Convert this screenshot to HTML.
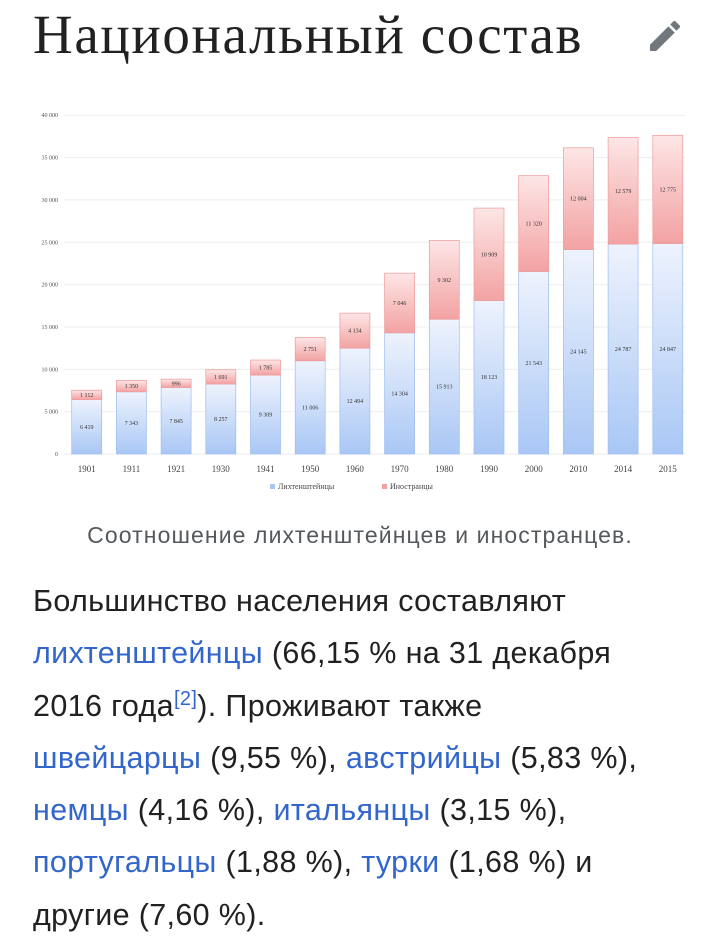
<!DOCTYPE html>
<html><head><meta charset="utf-8"><style>
body{margin:0;width:720px;height:949px;background:#fff;overflow:hidden;font-family:"Liberation Sans",sans-serif}
h1{position:absolute;left:33px;top:3px;margin:0;font:400 55px "Liberation Serif",serif;color:#202122;letter-spacing:1.6px;white-space:nowrap}
.cap{position:absolute;left:0;width:720px;top:522px;text-align:center;font-size:23px;letter-spacing:1.1px;color:#54595d}
.body{position:absolute;left:33px;top:575px;width:700px;font-size:30.5px;letter-spacing:0.35px;line-height:52.3px;color:#202122;white-space:nowrap}
a{color:#3366cc;text-decoration:none}
sup{font-size:20px;line-height:0}
</style></head><body>
<h1>Национальный состав</h1>
<svg style="position:absolute;left:645px;top:16px" width="40" height="40" viewBox="0 0 24 24"><path fill="#72777d" d="M3 17.25V21h3.75L17.81 9.94l-3.75-3.75L3 17.25zM20.71 7.04a1 1 0 0 0 0-1.41l-2.34-2.34a1 1 0 0 0-1.41 0l-1.83 1.83 3.75 3.75 1.83-1.83z"/></svg>
<svg style="position:absolute;left:0;top:100px" width="720" height="400" font-family="Liberation Serif,serif">
<defs>
<linearGradient id="b" x1="0" y1="0" x2="0" y2="1"><stop offset="0" stop-color="#eef3fd"/><stop offset="1" stop-color="#a9c7f5"/></linearGradient>
<linearGradient id="r" x1="0" y1="0" x2="0" y2="1"><stop offset="0" stop-color="#fde6e6"/><stop offset="1" stop-color="#f3a2a2"/></linearGradient>
</defs>
<g id="chart"></g>
</svg>
<div class="cap">Соотношение лихтенштейнцев и иностранцев.</div>
<div class="body">Большинство населения составляют<br><a>лихтенштейнцы</a> (66,15 % на 31 декабря<br>2016 года<sup><a>[2]</a></sup>). Проживают также<br><a>швейцарцы</a> (9,55 %), <a>австрийцы</a> (5,83 %),<br><a>немцы</a> (4,16 %), <a>итальянцы</a> (3,15 %),<br><a>португальцы</a> (1,88 %), <a>турки</a> (1,68 %) и<br>другие (7,60 %).</div>
<script>
var d=[[1901,6419,1112],[1911,7343,1350],[1921,7845,996],[1930,8257,1691],[1941,9309,1785],[1950,11006,2751],[1960,12494,4134],[1970,14304,7046],[1980,15913,9302],[1990,18123,10909],[2000,21543,11320],[2010,24145,12004],[2014,24787,12579],[2015,24847,12775]];
var g=document.getElementById('chart'),s='',base=354,k=84.7/10000;
function f(n){return String(n).replace(/\B(?=(\d{3})+(?!\d))/g,' ');}
for(var v=0;v<=40000;v+=5000){var y=base-v*k;s+='<line x1="64" x2="685" y1="'+y+'" y2="'+y+'" stroke="#eee"/><text x="58" y="'+(y+2)+'" font-size="6" text-anchor="end" fill="#555">'+(v?f(v):'0')+'</text>';}
d.forEach(function(e,i){var cx=86.7+i*44.7,x=cx-15,hb=e[1]*k,hr=e[2]*k;
s+='<rect x="'+x+'" y="'+(base-hb)+'" width="30" height="'+hb+'" fill="url(#b)" stroke="#9dbdf0" stroke-width="0.7"/>';
s+='<rect x="'+x+'" y="'+(base-hb-hr)+'" width="30" height="'+hr+'" fill="url(#r)" stroke="#ee9a9a" stroke-width="0.7"/>';
s+='<text x="'+cx+'" y="'+(base-hb/2+2)+'" font-size="6" text-anchor="middle" fill="#333">'+f(e[1])+'</text>';
s+='<text x="'+cx+'" y="'+(base-hb-hr/2+2)+'" font-size="6" text-anchor="middle" fill="#333">'+f(e[2])+'</text>';
s+='<text x="'+cx+'" y="372" font-size="9" text-anchor="middle" fill="#444">'+e[0]+'</text>';});
s+='<rect x="270" y="384" width="5" height="5" fill="#a9c7f5"/><text x="278" y="389" font-size="8" fill="#444">Лихтенштейнцы</text>';
s+='<rect x="382" y="384" width="5" height="5" fill="#f3a2a2"/><text x="390" y="389" font-size="8" fill="#444">Иностранцы</text>';
g.innerHTML=s;
</script>
</body></html>
